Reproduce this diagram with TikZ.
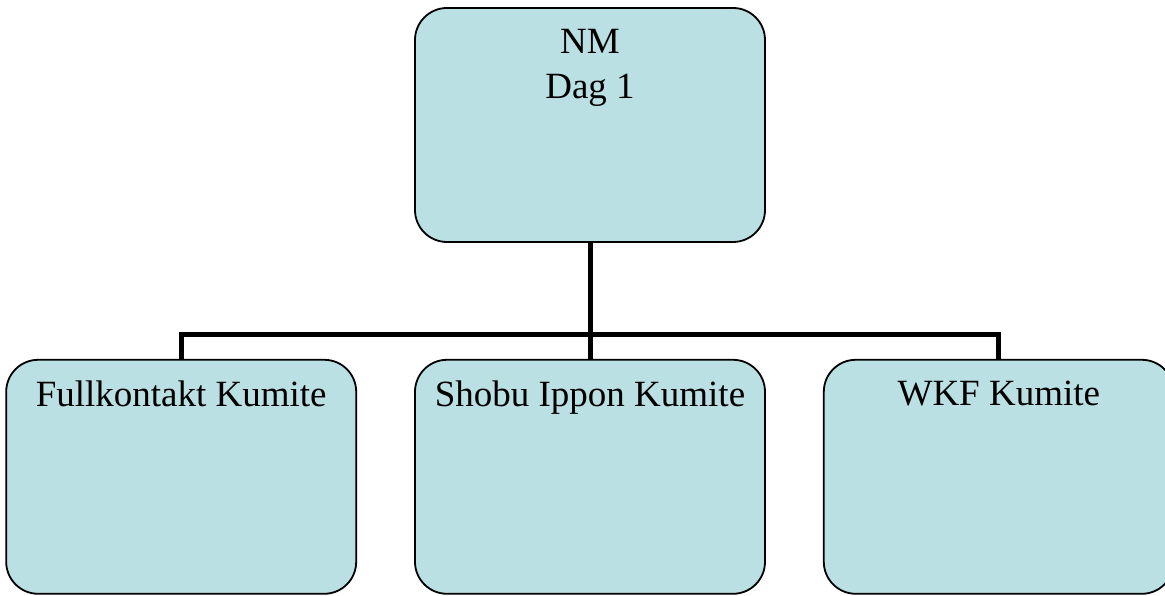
\documentclass[tikz,border=0pt]{standalone}
\usepackage{fontspec}
\setmainfont{Liberation Serif}
\usetikzlibrary{positioning}

\definecolor{boxfill}{RGB}{187,224,227}

\begin{document}
\begin{tikzpicture}[x=1pt, y=1pt, node distance=116pt and 57pt,
		box/.style={draw, line width=1.8pt, fill=boxfill, rounded corners=32pt,
			minimum width=350pt, minimum height=234pt, inner sep=0pt},
		title/.style={inner sep=0pt, align=center,
			font=\fontsize{37pt}{45pt}\selectfont},
		link/.style={line width=5pt, line join=miter}]
		\useasboundingbox (0,0) rectangle (1165,596);

		\node (nm) [box] at (590,471) {};
		\node (shobu) [box, below = of nm] {};
		\node (full) [box, left = of shobu] {};
		\node (wkf) [box, right = of shobu] {};

		\node (nmtext) [title, below = 22pt of nm.north] {NM\\Dag 1};
		\node (fulltext) [title, below = 22pt of full.north] {Fullkontakt Kumite};
		\node (shobutext) [title, below = 22pt of shobu.north] {Shobu Ippon Kumite};
		\node (wkftext) [title, below = 22pt of wkf.north] {WKF Kumite};

		\coordinate (bus) at ([yshift=-92pt]nm.south);
		\draw [link] (nm.south) -- (bus);
		\draw [link] (full.north) |- (bus) -| (wkf.north);
		\draw [link] (shobu.north) -- (bus);
	\end{tikzpicture}
\end{document}
